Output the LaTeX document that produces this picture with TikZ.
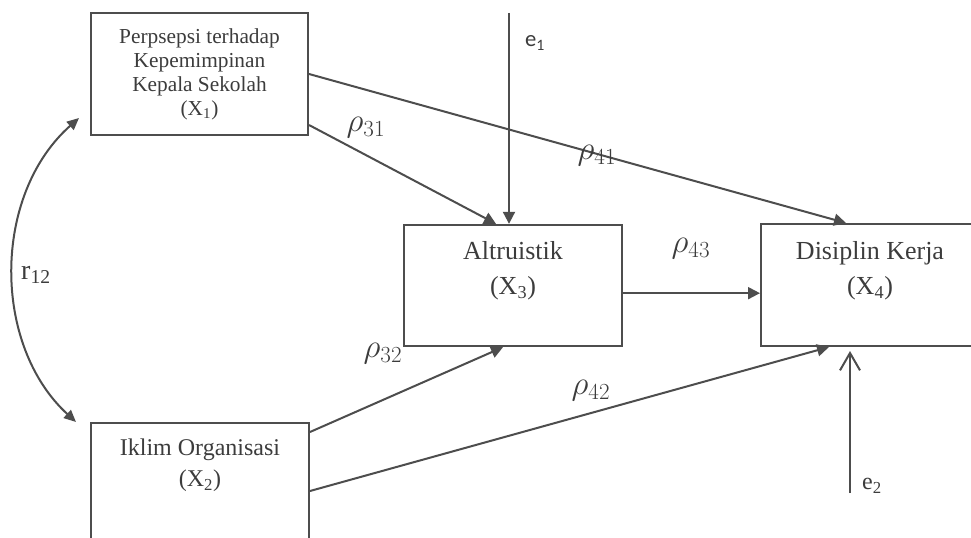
\documentclass[tikz,border=0pt]{standalone}
\usepackage{fontspec}
\setmainfont{Liberation Serif}
\newfontfamily\carlito{Carlito}
\usetikzlibrary{arrows.meta,calc}
\definecolor{linegray}{RGB}{77,77,77}
\definecolor{textgray}{RGB}{60,60,60}
\begin{document}
\begin{tikzpicture}[x=0.75pt,y=0.75pt,yscale=-1,xscale=1,
	varbox/.style={draw=linegray, line width=1.5pt, inner sep=0pt, minimum width=163.5pt, minimum height=91pt},
	boxtext/.style={text=textgray, inner sep=0pt, align=center, anchor=north},
	patharrow/.style={draw=linegray, line width=1.5pt, -{Triangle[length=9pt,width=9pt]}},
	coef/.style={text=textgray, inner sep=0pt, font=\fontsize{23}{26}\selectfont}]
	\useasboundingbox (0,0) rectangle (971,538);
	%Shape: Rectangle X1
	\node [varbox, minimum width=162.75pt, minimum height=91.5pt, text=textgray, align=center, font=\fontsize{16}{18}\selectfont] (x1) at (199.5,74) {Perpsepsi terhadap\\Kepemimpinan\\Kepala Sekolah\\(X\textsubscript{1})};
	%Shape: Rectangle X2
	\node [varbox, minimum height=91.5pt] (x2) at (200,484) {};
	\node [boxtext, font=\fontsize{18}{23.25}\selectfont] (t2) at ($(x2.north)+(0,17)$) {Iklim Organisasi\\(X\textsubscript{2})};
	%Shape: Rectangle X3
	\node [varbox] (x3) at (513,285.5) {};
	\node [boxtext, font=\fontsize{19.5}{26.25}\selectfont] (t3) at ($(x3.north)+(0,17)$) {Altruistik\\(X\textsubscript{3})};
	%Shape: Rectangle X4
	\node [varbox, minimum height=91.5pt] (x4) at (870,285) {};
	\node [boxtext, font=\fontsize{19.5}{26.25}\selectfont] (t4) at ($(x4.north)+(0,18)$) {Disiplin Kerja\\(X\textsubscript{4})};
	%Straight Lines
	\draw [patharrow] (x1.east) -- ($(x4.north west)+(86,0)$);
	\draw [patharrow] ($(x1.south east)+(0,-11)$) -- ($(x3.north west)+(93,0)$);
	\coordinate (e1) at (509,13);
	\draw [patharrow] (e1) -- (e1 |- x3.north);
	\draw [patharrow] ($(x3.south east)+(0,-54)$) coordinate (a43) -- (a43 -| x4.west);
	\draw [patharrow] ($(x2.north east)+(0,10)$) -- ($(x3.south west)+(100,0)$);
	\draw [patharrow] ($(x2.north east)+(0,69)$) -- ($(x4.south west)+(69,0)$);
	\coordinate (e2) at (850,493);
	\draw [draw=linegray, line width=1.5pt, -{Straight Barb[length=13pt,width=15pt]}] (e2) -- ($(e2 |- x4.south)+(0,4)$);
	%Curve Lines
	\draw [draw=linegray, line width=1.5pt, {Triangle[length=9pt,width=8pt]}-{Triangle[length=9pt,width=8pt]}] ($(x2.north west)+(-14,0)$) .. controls (-8,345) and (-8,195) .. ($(x1.south west)+(-11,-18)$);
	%Labels
	\node [coef] (p31) at (366,128) {$\rho_{31}$};
	\node [coef] (p41) at (597,156) {$\rho_{41}$};
	\node [coef] (p43) at (691,249) {$\rho_{43}$};
	\node [coef] (p32) at (383,354) {$\rho_{32}$};
	\node [coef] (p42) at (591,391) {$\rho_{42}$};
	\node [text=textgray, inner sep=0pt, font=\carlito\fontsize{17}{20}\selectfont] (le1) at (535,43) {e\textsubscript{1}};
	\node [text=textgray, inner sep=0pt, font=\fontsize{18}{21}\selectfont] (le2) at (872,486) {e\textsubscript{2}};
	\node [text=textgray, inner sep=0pt, font=\fontsize{21}{24}\selectfont] (lr12) at (36,275) {r\textsubscript{12}};
\end{tikzpicture}
\end{document}
